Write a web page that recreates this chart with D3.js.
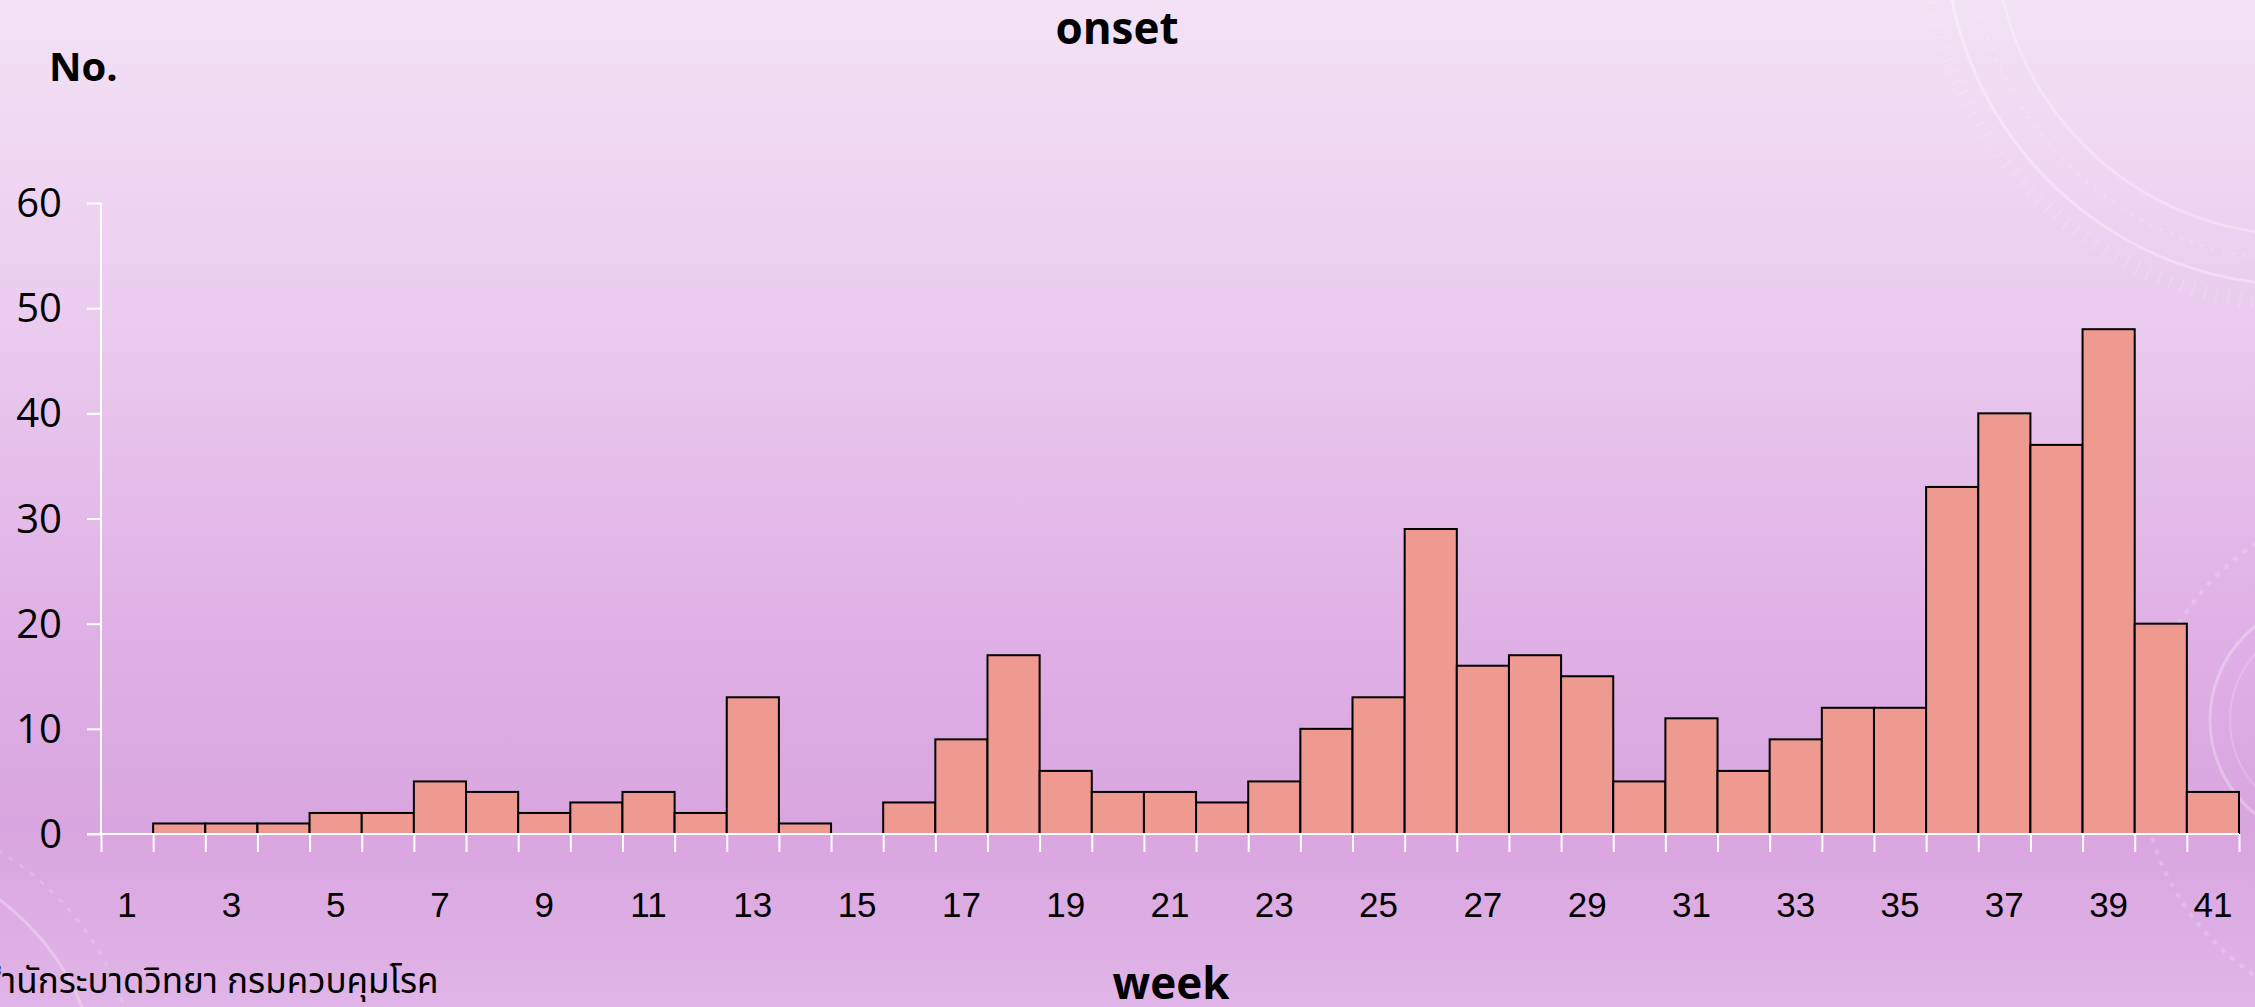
<!DOCTYPE html>
<html>
<head>
<meta charset="utf-8">
<script src="https://cdn.jsdelivr.net/npm/d3@7"></script>
<style>
  html, body { margin: 0; padding: 0; overflow: hidden; }
  svg { display: block; }
</style>
</head>
<body>
<svg id="chart" width="2255" height="1007"></svg>
<script>
// ---- data ----
const weeks = d3.range(1, 42);
const cases = [0, 1, 1, 1, 2, 2, 5, 4, 2, 3, 4, 2, 13, 1, 0, 3, 9, 17, 6, 4, 4, 3, 5, 10, 13, 29, 16, 17, 15, 5, 11, 6, 9, 12, 12, 33, 40, 37, 48, 20, 4];
const xTickLabels = weeks.filter(w => w % 2 === 1);
const yTicks = [0, 10, 20, 30, 40, 50, 60];
const titleText = "onset";
const yTitle = "No.";
const xTitle = "week";
const sourceText = "สำนักระบาดวิทยา กรมควบคุมโรค";

// ---- layout ----
const W = 2255, H = 1007;
const svg = d3.select("#chart");

const defs = svg.append("defs");
const grad = defs.append("linearGradient").attr("id", "bg").attr("x1", 0).attr("y1", 0).attr("x2", 0).attr("y2", 1);
[[0, "#f3e2f5"], [0.3, "#ebcdef"], [0.6, "#e0b2e6"], [0.82, "#d9a5e0"], [1, "#e0b5e7"]].forEach(([o, c]) =>
  grad.append("stop").attr("offset", o).attr("stop-color", c));

svg.append("rect").attr("width", W).attr("height", H).attr("fill", "url(#bg)");

// faint decorative arcs
const deco = svg.append("g").attr("fill", "none").attr("stroke", "#ffffff");
deco.append("circle").attr("cx", 2300).attr("cy", -70).attr("r", 355).attr("stroke-opacity", 0.3).attr("stroke-width", 3);
deco.append("circle").attr("cx", 2300).attr("cy", -70).attr("r", 305).attr("stroke-opacity", 0.25).attr("stroke-width", 3);
deco.append("circle").attr("cx", 2300).attr("cy", -70).attr("r", 375).attr("stroke-opacity", 0.14).attr("stroke-width", 14).attr("stroke-dasharray", "2 10");
deco.append("circle").attr("cx", 2300).attr("cy", -70).attr("r", 330).attr("stroke-opacity", 0.18).attr("stroke-width", 3).attr("stroke-dasharray", "3 8");
deco.append("circle").attr("cx", 2330).attr("cy", 720).attr("r", 120).attr("stroke-opacity", 0.28).attr("stroke-width", 3);
deco.append("circle").attr("cx", 2330).attr("cy", 720).attr("r", 100).attr("stroke-opacity", 0.18).attr("stroke-width", 2);
deco.append("circle").attr("cx", 2400).attr("cy", 760).attr("r", 260).attr("stroke-opacity", 0.18).attr("stroke-width", 4).attr("stroke-dasharray", "5 7");
deco.append("circle").attr("cx", -150).attr("cy", 1100).attr("r", 250).attr("stroke-opacity", 0.28).attr("stroke-width", 3);
deco.append("circle").attr("cx", -150).attr("cy", 1100).attr("r", 290).attr("stroke-opacity", 0.16).attr("stroke-width", 3).attr("stroke-dasharray", "5 8");

const x0 = 101, x1 = 2239, yBase = 834, yTop = 203;

const x = d3.scaleBand().domain(weeks).range([x0, x1]).padding(0);
const y = d3.scaleLinear().domain([0, 60]).range([yBase, yTop]);

// bars
const data = weeks.map((w, i) => ({ week: w, value: cases[i] })).filter(d => d.value > 0);
svg.append("g").selectAll("rect").data(data).join("rect")
  .attr("x", d => x(d.week))
  .attr("y", d => y(d.value))
  .attr("width", x.bandwidth())
  .attr("height", d => y(0) - y(d.value))
  .attr("fill", "#ef9a91")
  .attr("stroke", "#000")
  .attr("stroke-width", 2);

// y axis
const yAxis = d3.axisLeft(y).tickValues(yTicks).tickSize(14).tickFormat("");
const gy = svg.append("g").attr("transform", `translate(${x0},0)`).call(yAxis);
gy.select(".domain").attr("stroke", "#fff").attr("stroke-width", 2).attr("d", `M0,${yTop}H0V${yBase}`);
gy.selectAll(".tick line").attr("stroke", "#fff").attr("stroke-width", 2);

svg.append("g").selectAll("text").data(yTicks).join("text")
  .attr("x", 62).attr("y", d => y(d) + 14)
  .attr("text-anchor", "end")
  .attr("font-family", "'Open Sans', sans-serif")
  .attr("font-size", 40)
  .attr("fill", "#000")
  .text(d => d);

// x axis: ticks at band boundaries
const xLin = d3.scaleLinear().domain([0, 41]).range([x0, x1]);
const xAxis = d3.axisBottom(xLin).tickValues(d3.range(0, 42)).tickSize(18).tickFormat("");
const gx = svg.append("g").attr("transform", `translate(0,${yBase})`).call(xAxis);
gx.select(".domain").attr("stroke", "#fff").attr("stroke-width", 2).attr("d", `M${x0 - 14},0H${x1}`);
gx.selectAll(".tick line").attr("stroke", "#fff").attr("stroke-width", 2);

svg.append("g").selectAll("text").data(xTickLabels).join("text")
  .attr("x", d => x(d) + x.bandwidth() / 2)
  .attr("y", 917)
  .attr("text-anchor", "middle")
  .attr("font-family", "'Liberation Sans', Arial, sans-serif")
  .attr("font-size", 35)
  .attr("fill", "#000")
  .text(d => d);

// titles
svg.append("text").attr("x", 1117).attr("y", 44).attr("text-anchor", "middle")
  .attr("font-family", "'Open Sans', sans-serif").attr("font-weight", "bold").attr("font-size", 44)
  .text(titleText);
svg.append("text").attr("x", 49).attr("y", 81)
  .attr("font-family", "'Open Sans', sans-serif").attr("font-weight", "bold").attr("font-size", 40)
  .text(yTitle);
svg.append("text").attr("x", 1171).attr("y", 999).attr("text-anchor", "middle")
  .attr("font-family", "'Open Sans', sans-serif").attr("font-weight", "bold").attr("font-size", 44)
  .text(xTitle);

// source text, clipped at the left edge like the original
const thaiFont = "'Noto Sans Thai', 'Noto Sans', sans-serif";
const probe = svg.append("text").attr("font-family", thaiFont).attr("font-size", 35).text(sourceText.charAt(0));
const firstW = probe.node().getComputedTextLength();
probe.remove();
svg.append("text").attr("y", 993).attr("x", -firstW + 2)
  .attr("font-family", thaiFont).attr("font-size", 35)
  .attr("fill", "#000")
  .text(sourceText);
</script>
</body>
</html>
